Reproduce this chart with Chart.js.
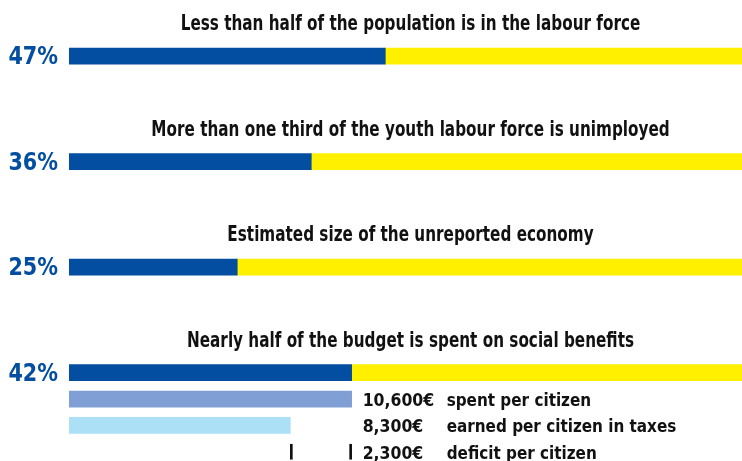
<!DOCTYPE html>
<html>
<head>
<meta charset="utf-8">
<script src="https://cdn.jsdelivr.net/npm/chart.js@4"></script>
<style>
    body { margin: 0; background: #fff; overflow: hidden; }
    canvas { display: block; }
</style>
</head>
<body>
<canvas id="budgetChart" width="742" height="480"></canvas>
<script>
// chart data
const titles = [
    "Less than half of the population is in the labour force",
    "More than one third of the youth labour force is unimployed",
    "Estimated size of the unreported economy",
    "Nearly half of the budget is spent on social benefits"
];
const shares = [47, 36, 25, 42];
const perCitizen = [10600, 8300, 2300];
const perCitizenText = ["spent per citizen", "earned per citizen in taxes", "deficit per citizen"];

const BLUE = "#034ea1";
const YELLOW = "#fff000";
const SPENT = "#809fd4";
const EARNED = "#abe0f6";
const FONT = "'Liberation Sans Narrow', 'DejaVu Sans Condensed', sans-serif";

// rows of the category axis: one per share bar, 3 spacer rows between, then the euro rows
const rows = [];
shares.forEach((v, i) => {
    rows.push("share" + i);
    if (i < shares.length - 1) rows.push("gap" + i + "a", "gap" + i + "b", "gap" + i + "c");
});
perCitizen.forEach((v, i) => rows.push("eur" + i));

// euro axis is scaled so that spending lines up with its share of the budget
const euroMax = perCitizen[0] / shares[3] * 100;

function euroLabel(v) {
    return v.toLocaleString("en-US") + "€";
}

// condensed text: the reference uses a narrow bold face
function drawText(ctx, text, x, y, align, squeeze) {
    ctx.save();
    ctx.translate(x, y);
    ctx.scale(squeeze, 1);
    ctx.textAlign = align;
    ctx.textBaseline = "alphabetic";
    ctx.fillText(text, 0, 0);
    ctx.restore();
}

const textPlugin = {
    id: "textPlugin",
    afterDatasetsDraw(chart) {
        const ctx = chart.ctx;
        const area = chart.chartArea;
        const shareBars = chart.getDatasetMeta(0).data;
        ctx.save();

        shareBars.forEach((bar, i) => {
            // title above each bar
            ctx.fillStyle = "#111";
            ctx.font = "bold 22px " + FONT;
            drawText(ctx, titles[i], (area.left + area.right) / 2 + 5, bar.y - 26, "center", 0.77);

            // percentage on the left
            ctx.fillStyle = BLUE;
            ctx.font = "bold 25px " + FONT;
            drawText(ctx, shares[i] + "%", area.left - 11, bar.y + 8, "right", 0.92);
        });

        // euro labels
        const x2 = chart.scales.x2;
        const valueX = x2.getPixelForValue(perCitizen[0]) + 11;
        const y = chart.scales.y;
        ctx.fillStyle = "#111";
        ctx.font = "bold 18px " + FONT;
        perCitizen.forEach((v, i) => {
            const rowY = y.getPixelForValue(rows.indexOf("eur" + i));
            drawText(ctx, euroLabel(v), valueX, rowY + 7, "left", 0.97);
            drawText(ctx, perCitizenText[i], valueX + 84, rowY + 7, "left", 0.94);
        });
        ctx.restore();
    }
};

const ctx = document.getElementById("budgetChart").getContext("2d");
new Chart(ctx, {
    type: "bar",
    data: {
        labels: rows,
        datasets: [
            {
                data: shares.map((v, i) => ({ y: "share" + i, x: v })),
                backgroundColor: BLUE,
                xAxisID: "x"
            },
            {
                data: shares.map((v, i) => ({ y: "share" + i, x: [v, 100] })),
                backgroundColor: YELLOW,
                xAxisID: "x"
            },
            {
                data: [{ y: "eur0", x: perCitizen[0] }],
                backgroundColor: SPENT,
                xAxisID: "x2"
            },
            {
                data: [{ y: "eur1", x: perCitizen[1] }],
                backgroundColor: EARNED,
                xAxisID: "x2"
            },
            {
                // deficit bracket between earned and spent
                data: [{ y: "eur2", x: [perCitizen[1], perCitizen[1] + perCitizen[2]] }],
                backgroundColor: "rgba(0,0,0,0)",
                borderColor: "#111",
                borderWidth: { left: 2, right: 2, top: 0, bottom: 0 },
                borderSkipped: false,
                xAxisID: "x2"
            }
        ]
    },
    options: {
        indexAxis: "y",
        responsive: false,
        animation: false,
        datasets: {
            bar: { barThickness: 16, grouped: false }
        },
        layout: { padding: { left: 69, right: 0, top: 43, bottom: 15 } },
        scales: {
            x: { min: 0, max: 100, display: false },
            x2: { type: "linear", min: 0, max: euroMax, display: false },
            y: { display: false }
        },
        plugins: {
            legend: { display: false },
            tooltip: { enabled: false }
        }
    },
    plugins: [textPlugin]
});
</script>
</body>
</html>
